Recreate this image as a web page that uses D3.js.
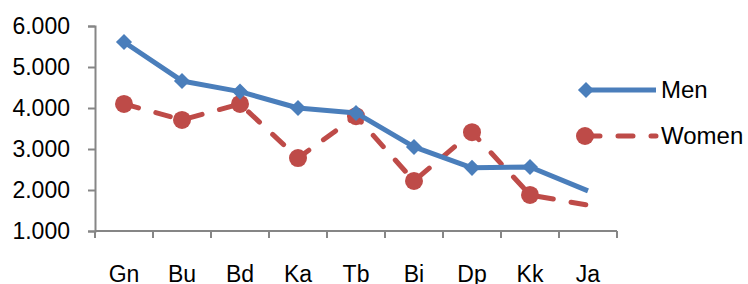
<!DOCTYPE html>
<html>
<head>
<meta charset="utf-8">
<script src="https://cdn.jsdelivr.net/npm/d3@7"></script>
<style>
  body { margin: 0; background: #fff; }
  svg { display: block; }
  text { font-family: "Liberation Sans", Arial, sans-serif; fill: #000; }
</style>
</head>
<body>
<svg id="chart" width="748" height="284"></svg>
<script>
const categories = ["Gn", "Bu", "Bd", "Ka", "Tb", "Bi", "Dp", "Kk", "Ja"];
const men = [5.61, 4.66, 4.40, 4.00, 3.88, 3.05, 2.54, 2.56, 1.98];
const women = [4.10, 3.71, 4.10, 2.78, 3.80, 2.22, 3.41, 1.88, 1.63];
const yTicks = [1, 2, 3, 4, 5, 6];
const seriesNames = ["Men", "Women"];

let svg = d3.select("#chart");

let x = d3.scaleBand().domain(categories).range([95, 617]);
let y = d3.scaleLinear().domain([1, 6]).range([231, 26]);

let axisColor = "#868686";
let blue = "#4A7EBB";
let red = "#BE4B48";

// y axis
let yAxis = svg.append("g")
    .attr("transform", "translate(95,0)")
    .call(d3.axisLeft(y).tickValues(yTicks).tickSize(7).tickPadding(18)
        .tickFormat(d3.format(".3f")));
yAxis.select(".domain").attr("stroke", axisColor).attr("stroke-width", 2);
yAxis.selectAll(".tick line").attr("stroke", axisColor).attr("stroke-width", 2);
yAxis.selectAll(".tick text").attr("font-size", "23px").attr("fill", "#000")
    .attr("font-family", "Liberation Sans, Arial, sans-serif");

// x axis, ticks between categories
let xAxisG = svg.append("g").attr("transform", "translate(0,231)");
xAxisG.append("line")
    .attr("x1", 95).attr("x2", 617)
    .attr("stroke", axisColor).attr("stroke-width", 2);
let bounds = categories.map(c => x(c)).concat([x.range()[1]]);
xAxisG.selectAll("line.tick").data(bounds).enter().append("line")
    .attr("class", "tick")
    .attr("x1", d => d).attr("x2", d => d)
    .attr("y1", 0).attr("y2", 7)
    .attr("stroke", axisColor).attr("stroke-width", 2);
xAxisG.selectAll("text").data(categories).enter().append("text")
    .attr("x", d => x(d) + x.bandwidth() / 2)
    .attr("y", 51)
    .attr("text-anchor", "middle")
    .attr("font-size", "23px")
    .text(d => d);

let cx = i => x(categories[i]) + x.bandwidth() / 2;
let line = d3.line().x((d, i) => cx(i)).y(d => y(d));

// Women
svg.append("path")
    .attr("d", line(women))
    .attr("fill", "none")
    .attr("stroke", red)
    .attr("stroke-width", 5)
    .attr("stroke-dasharray", "15,18")
    .attr("stroke-linecap", "round");
svg.selectAll("circle.w").data(women.slice(0, -1)).enter().append("circle")
    .attr("class", "w")
    .attr("cx", (d, i) => cx(i))
    .attr("cy", d => y(d))
    .attr("r", 9)
    .attr("fill", red);

// Men
svg.append("path")
    .attr("d", line(men))
    .attr("fill", "none")
    .attr("stroke", blue)
    .attr("stroke-width", 5)
    .attr("stroke-linejoin", "round");
let diamond = d3.symbol().type(d3.symbolDiamond2).size(165);
svg.selectAll("path.m").data(men.slice(0, -1)).enter().append("path")
    .attr("class", "m")
    .attr("d", diamond)
    .attr("transform", (d, i) => `translate(${cx(i)},${y(d)})`)
    .attr("fill", blue);

// legend
let legend = svg.append("g");
legend.append("line")
    .attr("x1", 585).attr("x2", 656).attr("y1", 90).attr("y2", 90)
    .attr("stroke", blue).attr("stroke-width", 5);
legend.append("path")
    .attr("d", diamond)
    .attr("transform", "translate(586,90)")
    .attr("fill", blue);
legend.append("text").attr("x", 661).attr("y", 98).attr("font-size", "24px").text(seriesNames[0]);

legend.append("line")
    .attr("x1", 585).attr("x2", 656).attr("y1", 136).attr("y2", 136)
    .attr("stroke", red).attr("stroke-width", 5)
    .attr("stroke-dasharray", "15,18").attr("stroke-linecap", "round");
legend.append("circle")
    .attr("cx", 585).attr("cy", 136).attr("r", 9).attr("fill", red);
legend.append("text").attr("x", 661).attr("y", 144).attr("font-size", "24px").text(seriesNames[1]);
</script>
</body>
</html>
